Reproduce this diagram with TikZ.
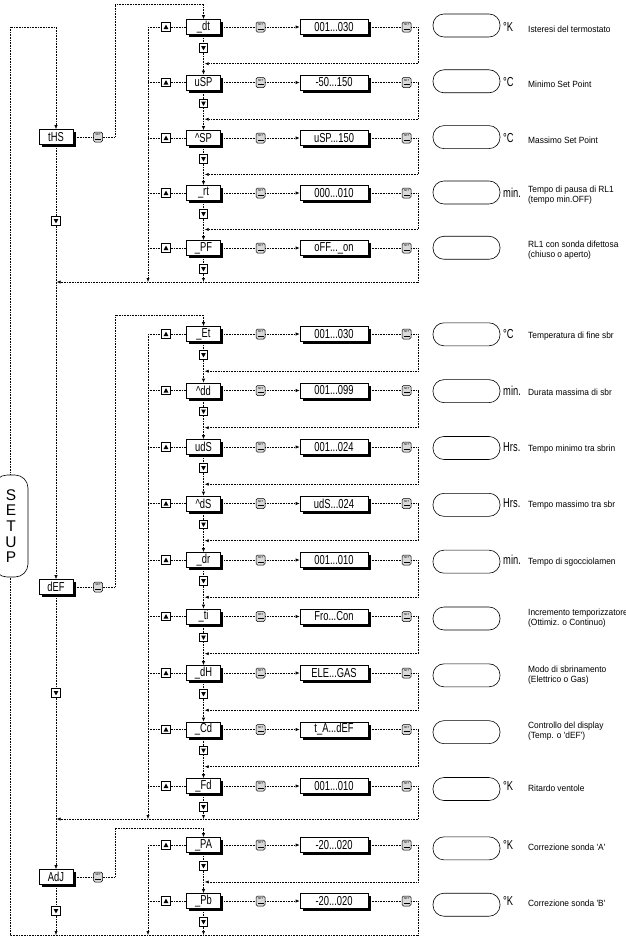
\documentclass[tikz,border=0pt]{standalone}
\usepackage{fontspec}
\setmainfont{Liberation Sans}
\newfontfamily\condfont[FakeStretch=0.72]{Liberation Sans}
\newfontfamily\notefont[FakeStretch=0.93]{Liberation Sans}
\usetikzlibrary{arrows.meta, shadows}

% three dots of a range, kept out of \foreach's own "..."
\newcommand{\rdots}{.\kern0pt.\kern0pt.}

\begin{document}
\begin{tikzpicture}[
    x=1pt, y=-1pt,
    every node/.style={inner sep=0pt},
]

\definecolor{ink}{HTML}{000000}
\definecolor{keyfill}{HTML}{D9D9D9}

% ================================================================
%  Page units are pixels of the sheet, y running downwards.
%  Main menu column at x = 56, sub menus at x = 203.5,
%  value boxes at x = 334, displays at x = 466.5, texts from x = 528.
%  Returns of a group meet on one line (j1, j2, j3) and go back
%  to the main column.
% ================================================================

\tikzset{
  flow/.style={draw=ink, densely dotted, line width=0.6pt},
  flowarr/.style={flow, -{Latex[length=4pt, width=3.2pt]}},
  menubox/.style={draw=ink, fill=white, line width=0.6pt,
                  minimum width=34pt, minimum height=15pt,
                  font=\condfont\fontsize{13}{13}\selectfont,
                  drop shadow={shadow xshift=2.8pt, shadow yshift=-2.8pt,
                               fill=ink, opacity=1}},
  valbox/.style={menubox, minimum width=68pt},
  setkey/.style={draw=ink, fill=keyfill, line width=0.5pt,
                 rounded corners=1.5pt, minimum width=9pt, minimum height=10pt,
                 path picture={
                   \node[font=\fontsize{2.8}{3}\selectfont, inner sep=0pt]
                     at ([yshift=2pt]path picture bounding box.center) {SET};
                   \draw[line width=0.7pt]
                     ([xshift=-3pt, yshift=-2pt]path picture bounding box.center)
                     -- ++(6pt,0pt);
                 }},
  upkey/.style={draw=ink, fill=white, line width=0.9pt, minimum size=8.5pt,
                path picture={\fill[ink]
                  ([xshift=-2.4pt, yshift=-2pt]path picture bounding box.center)
                  -- ++(4.8pt,0pt) -- ++(-2.4pt,4.4pt) -- cycle;}},
  downkey/.style={draw=ink, fill=white, line width=0.9pt, minimum size=8.5pt,
                path picture={\fill[ink]
                  ([xshift=-2.4pt, yshift=2pt]path picture bounding box.center)
                  -- ++(4.8pt,0pt) -- ++(-2.4pt,-4.4pt) -- cycle;}},
  display/.style={draw=ink, line width=0.6pt, rounded corners=11pt,
                  minimum width=67pt, minimum height=23pt},
  unit/.style={font=\condfont\fontsize{13}{13}\selectfont, anchor=west},
  descr/.style={font=\notefont\fontsize{9}{10}\selectfont, anchor=west,
                align=left},
  setupbox/.style={draw=ink, fill=white, line width=0.6pt, rounded corners=13pt,
                   minimum width=34pt, minimum height=102pt, align=center,
                   font=\fontsize{15.5}{15.7}\selectfont},
}

\useasboundingbox (0,0) rectangle (626,938);

% ---------------------------------------------------------------- sub menus
\foreach \i/\y/\nm/\rng/\unt/\txt in {
    1/27/\_dt/001\rdots030/°K/Isteresi del termostato,
    2/82.5/uSP/-50\rdots150/°C/Minimo Set Point,
    3/138/\textasciicircum SP/uSP\rdots150/°C/Massimo Set Point,
    4/193/\_rt/000\rdots010/min./Tempo di pausa di RL1\\(tempo min.OFF),
    5/248/\_PF/oFF\rdots\_on//RL1 con sonda difettosa\\(chiuso o aperto),
    6/334/\_Et/001\rdots030/°C/Temperatura di fine sbr,
    7/390.5/\textasciicircum dd/001\rdots099/min./Durata massima di sbr,
    8/447/udS/001\rdots024/Hrs./Tempo minimo tra sbrin,
    9/503.5/\textasciicircum dS/udS\rdots024/Hrs./Tempo massimo tra sbr,
    10/560/\_dr/001\rdots010/min./Tempo di sgocciolamen,
    11/616.5/\_ti/Fro\rdots Con//Incremento temporizzatore\\(Ottimiz. o Continuo),
    12/673/\_dH/ELE\rdots GAS//Modo di sbrinamento\\(Elettrico o Gas),
    13/729.5/\_Cd/t\_A\rdots dEF//Controllo del display\\(Temp. o 'dEF'),
    14/786/\_Fd/001\rdots010/°K/Ritardo ventole,
    15/845/\_PA/-20\rdots020/°K/Correzione sonda 'A',
    16/901/\_Pb/-20\rdots020/°K/Correzione sonda 'B'} {
    \coordinate (l\i) at (148,\y);
    \coordinate (c\i) at (418,\y);
    \node[upkey]   (u\i) at (166,\y) {};
    \node[menubox] (s\i) at (203.5,\y) {\nm};
    \node[setkey]  (a\i) at (260.5,\y) {};
    \node[valbox]  (v\i) at (334,\y) {\rng};
    \node[setkey]  (b\i) at (406.5,\y) {};
    \node[downkey] (d\i) at (203.5,{\y+21}) {};
    \node[display] (o\i) at (466.5,{1.006*\y-1.7}) {};
    \node[unit]    (t\i) at (503,\y) {\unt};
    \node[descr]   (x\i) at (528,{\y+2}) {\txt};
    \draw[flow] (l\i) -- (u\i) -- (s\i) -- (a\i);
    \draw[flowarr] (a\i) -- (v\i);
    \draw[flow] (v\i) -- (b\i) -- (c\i);
    \draw[flow] (s\i) -- (d\i);
}

% ---------------------------------------------------------------- chains
\foreach \i/\j in {1/2, 2/3, 3/4, 4/5, 6/7, 7/8, 8/9, 9/10, 10/11,
                   11/12, 12/13, 13/14, 15/16} {
    \draw[flowarr] (d\i) -- (s\j);
    \path (d\i.south) -- (s\j.north) coordinate[midway] (h\i);
    \draw[flowarr] (c\i) |- ([xshift=1.2pt]h\i);
}

% ---------------------------------------------------------------- group ends
\coordinate (j1) at (418,282);
\coordinate (j2) at (418,819);
\coordinate (j3) at (418,935);
\foreach \i/\f/\j in {5/1/j1, 14/6/j2, 16/15/j3} {
    \draw[flowarr] (d\i) -- (d\i |- \j);
    \draw[flow] (c\i) -- (\j);
    \draw[flowarr] (l\f) -- (l\f |- \j);
}
\draw[flowarr] (j1) -- (56.6,282);
\draw[flowarr] (j2) -- (56.6,819);

% ---------------------------------------------------------------- main menu
\node[menubox] (m1) at (56,137) {tHS};
\node[menubox] (m2) at (56,587) {dEF};
\node[menubox] (m3) at (56,877) {AdJ};
\foreach \k/\ky/\ny/\ey/\first in {1/137/221/4/1, 2/587/693/315/6,
                                   3/877/911/828/15} {
    \node[setkey]  (k\k) at (98,\ky) {};
    \node[downkey] (n\k) at (56,\ny) {};
    \draw[flow] (m\k) -- (k\k);
    \draw[flowarr] (k\k) -| (115,\ey) -| (s\first);
    \draw[flow] (m\k) -- (n\k);
}
\draw[flowarr] (n1) -- (m2);
\draw[flowarr] (n2) -- (m3);
\draw[flowarr] (n3) -- (56,935);

% ---------------------------------------------------------------- loop back
\draw[flowarr] (j3) -- (10,935) -- (10,27) -- (56,27) -- (m1);

\node[setupbox] (setup) at (11,526) {S\\E\\T\\U\\P};

\end{tikzpicture}
\end{document}
